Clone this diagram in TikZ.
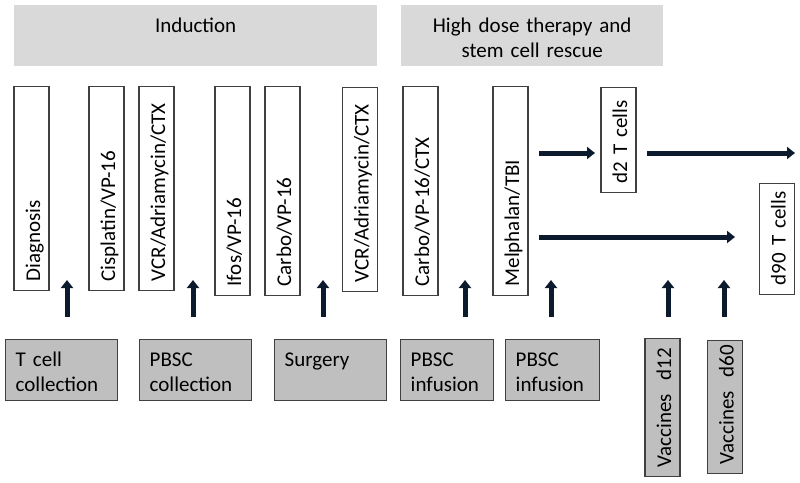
\documentclass[tikz,border=0pt]{standalone}
\usepackage{fontspec}
\setmainfont{Carlito}
\usetikzlibrary{arrows.meta}
\definecolor{phasegray}{HTML}{D9D9D9}
\definecolor{eventgray}{HTML}{BFBFBF}
\definecolor{boxline}{HTML}{404040}
\definecolor{arrowink}{HTML}{0C1A2E}

\begin{document}
\begin{tikzpicture}[x=1pt,y=-1pt,
  every node/.style={font=\fontsize{21}{25}\selectfont},
  phase/.style={fill=phasegray, anchor=north west, inner sep=0pt, align=center,
    text height=27pt, text depth=34pt},
  event/.style={draw=boxline, line width=1.4pt, fill=eventgray, anchor=north west,
    inner xsep=10pt, inner ysep=0pt, align=left, text height=27pt, text depth=34pt},
  drug/.style={draw=boxline, line width=1.4pt, fill=white, rotate=90, anchor=west,
    inner xsep=9pt, inner ysep=0pt, align=left, text height=26pt, text depth=9pt},
  vaccine/.style={drug, fill=eventgray},
  flow/.style={draw=arrowink, line width=5pt, -{Triangle[length=8pt,width=12pt]}}]
  \useasboundingbox (0,0) rectangle (800,482);

  \node[phase, text width=363pt] (induction) at (14,5) {Induction};
  \node[phase, text width=262pt] (hdt) at (401,5) {High dose therapy and\\stem cell rescue};

  \node[drug, text width=186pt] (diag)      at (31.5,291) {Diagnosis};
  \node[drug, text width=186pt] (cispl)     at (106.5,291) {Cisplatin/VP-16};
  \node[drug, text width=186pt] (vcrA)      at (156.5,291) {VCR/Adriamycin/CTX};
  \node[drug, text width=191pt] (ifos)      at (232.5,296) {Ifos/VP-16};
  \node[drug, text width=191pt] (carbo)     at (282.5,296) {Carbo/VP-16};
  \node[drug, text width=186pt] (vcrB)      at (360,292) {VCR/Adriamycin/CTX};
  \node[drug, text width=191pt] (carboctx)  at (420.5,296) {Carbo/VP-16/CTX};
  \node[drug, text width=191pt] (melph)     at (510.5,296) {Melphalan/TBI};
  \node[drug, text width=87pt]  (dtwo)      at (618.5,193) {d2~T~cells};
  \node[drug, text width=93pt]  (dninety)   at (777,295) {d90~T~cells};

  \node[event, text width=92pt] (tcell)   at (5,339) {T cell\\collection};
  \node[event, text width=92pt] (pbscc)   at (139,339) {PBSC\\collection};
  \node[event, text width=92pt] (surgery) at (274,339) {Surgery};
  \node[event, text width=73pt] (pbsciA)  at (400,339) {PBSC\\infusion};
  \node[event, text width=74pt] (pbsciB)  at (505,339) {PBSC\\infusion};
  \node[vaccine, text width=120pt] (vactwelve) at (662.5,477) {Vaccines~~d12};
  \node[vaccine, text width=115pt] (vacsixty)  at (725,474) {Vaccines~~d60};

  \foreach \x [count=\i] in {67,193,323,465,551,668,724}{
    \coordinate (tail\i) at (\x,317);
    \coordinate (head\i) at (\x,280);
    \draw[flow] (tail\i) -- (head\i);
  }

  \coordinate (melphout) at (539,153);
  \coordinate (dtwoin)   at (595,153);
  \coordinate (dtwoout)  at (647,153);
  \coordinate (dtwoend)  at (795,153);
  \coordinate (melphlow) at (539,237);
  \coordinate (lowend)   at (735,237);
  \draw[flow] (melphout) -- (dtwoin);
  \draw[flow] (dtwoout) -- (dtwoend);
  \draw[flow] (melphlow) -- (lowend);
\end{tikzpicture}
\end{document}
